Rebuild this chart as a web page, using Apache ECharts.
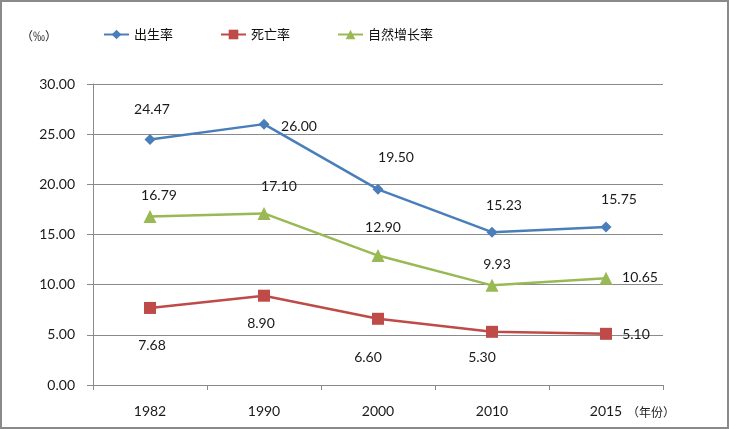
<!DOCTYPE html>
<html>
<head>
<meta charset="utf-8">
<script src="https://cdn.jsdelivr.net/npm/echarts@6/dist/echarts.min.js"></script>
<style>
html,body{margin:0;padding:0;background:#fff;}
#main{width:729px;height:429px;box-sizing:border-box;border:2px solid #8a8a8a;}
</style>
</head>
<body>
<div id="main"></div>
<script>
// ---- data ----
const years = ['1982', '1990', '2000', '2010', '2015'];
const birthRate = [24.47, 26.00, 19.50, 15.23, 15.75];
const deathRate = [7.68, 8.90, 6.60, 5.30, 5.10];
const naturalRate = [16.79, 17.10, 12.90, 9.93, 10.65];
const seriesNames = ['出生率', '死亡率', '自然增长率'];
const yTicks = [0, 5, 10, 15, 20, 25, 30];

// ---- label placement (style, not data) ----
const labelOffsets = {
  birth: [[2, -30], [35, 2], [18, -32], [12, -27], [13, -27]],
  death: [[2, 38], [-3, 28], [-10, 39], [-10, 26], [30, 1]],
  natural: [[9, -21], [15, -27], [5, -28], [5, -21], [34, -1]]
};

const numFont = 'Lato, "Open Sans", sans-serif';
const cjkFont = '"Noto Sans CJK SC", sans-serif';
const axisColor = '#8a8a8a';

function buildData(values, offs) {
  return values.map((v, i) => ({ value: v, label: { offset: offs[i] } }));
}

function makeSeries(name, values, offs, color, symbol, size) {
  return {
    name: name,
    type: 'line',
    data: buildData(values, offs),
    symbol: symbol,
    symbolSize: size,
    lineStyle: { color: color, width: 2.5 },
    itemStyle: { color: color },
    label: {
      show: true,
      position: 'inside',
      color: '#1a1a1a',
      fontFamily: numFont,
      fontSize: 14,
      formatter: p => Number(p.value).toFixed(2)
    },
    emphasis: { disabled: true },
    animation: false
  };
}

const chart = echarts.init(document.getElementById('main'));
chart.setOption({
  animation: false,
  title: [
    { text: '（‰）', left: 14, top: 23, textStyle: { fontFamily: cjkFont, fontSize: 12, fontWeight: 'normal', color: '#222' } },
    { text: '（年份）', left: 620, top: 399, textStyle: { fontFamily: cjkFont, fontSize: 12, fontWeight: 'normal', color: '#222' } }
  ],
  legend: {
    data: seriesNames,
    left: 96,
    top: 21,
    itemGap: 47,
    itemWidth: 25,
    itemHeight: 12,
    textStyle: { fontFamily: cjkFont, fontSize: 13, color: '#111' }
  },
  grid: { left: 91, right: 64, top: 82, bottom: 42, containLabel: false },
  xAxis: {
    type: 'category',
    data: years,
    boundaryGap: true,
    axisLine: { lineStyle: { color: axisColor, width: 1 } },
    axisTick: { show: true, length: 5, lineStyle: { color: axisColor } },
    axisLabel: { margin: 19, color: '#1a1a1a', fontFamily: numFont, fontSize: 14 }
  },
  yAxis: {
    type: 'value',
    min: yTicks[0],
    max: yTicks[yTicks.length - 1],
    interval: 5,
    axisLine: { show: true, lineStyle: { color: axisColor, width: 1 } },
    axisTick: { show: true, length: 6, lineStyle: { color: axisColor } },
    splitLine: { show: true, lineStyle: { color: axisColor, width: 1 } },
    axisLabel: { margin: 18, color: '#1a1a1a', fontFamily: numFont, fontSize: 14, formatter: v => v.toFixed(2) }
  },
  series: [
    makeSeries(seriesNames[0], birthRate, labelOffsets.birth, '#4a7ebb', 'diamond', 11),
    makeSeries(seriesNames[1], deathRate, labelOffsets.death, '#be4b48', 'rect', 12),
    makeSeries(seriesNames[2], naturalRate, labelOffsets.natural, '#98b954', 'triangle', 13)
  ]
});
</script>
</body>
</html>
